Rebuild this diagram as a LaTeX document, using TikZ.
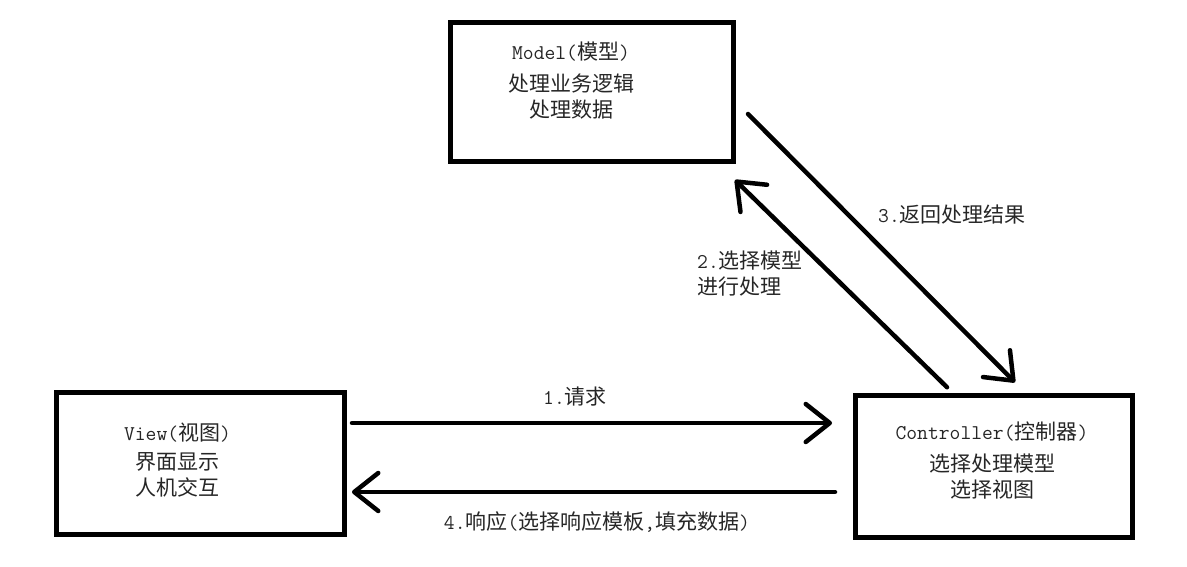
\documentclass[tikz,border=0pt]{standalone}
\usepackage{fontspec}
\setmainfont{Noto Sans CJK SC}
\setmonofont{Latin Modern Mono}
\usepackage{tikz}
\usetikzlibrary{arrows.meta, calc}
\tikzset{
	module/.style={rectangle, draw=black, line width=5pt, outer sep=0pt, minimum height=142pt},
	desc/.style  ={align=center, text=black!85, font=\fontsize{21}{26}\selectfont, inner sep=0pt},
	tag/.style   ={text=black!85, font=\fontsize{21}{26}\selectfont, inner sep=0pt},
	link/.style  ={line width=4.5pt, line cap=round, -{Straight Barb[length=24pt, width=38pt, round]}},
}
\newcommand{\lat}[1]{\texttt{#1}}

\begin{document}
\begin{tikzpicture}[x=1pt, y=-1pt]
	\useasboundingbox (0,0) rectangle (1187,567);
	% the three parts
	\node[module, minimum width=283.5pt, minimum height=139pt] (model) at (591.75,92) {};
	\node[module, minimum width=288pt] (view) at (200.5,463.25) {};
	\node[module, minimum width=276.5pt] (ctrl) at (993.75,466.75) {};

	\node[desc] (modeltxt) at (571,81) {\lat{Model(}模型\lat{)}\\[6pt]处理业务逻辑\\处理数据};
	\node[desc] (viewtxt) at (177.5,460) {\lat{View(}视图\lat{)}\\[3pt]界面显示\\人机交互};
	\node[desc] (ctrltxt) at (992,461) {\lat{Controller(}控制器\lat{)}\\[6pt]选择处理模型\\选择视图};

	% requests and responses
	\draw[link] ([xshift=7.5pt, yshift=40.25pt]view.east) -- ([xshift=-23.5pt, yshift=43.75pt]ctrl.west);
	\draw[link] ([xshift=91.5pt, yshift=8.5pt]ctrl.north west) -- ([xshift=1.5pt, yshift=-18.5pt]model.south east);
	\draw[link] ([xshift=14.5pt, yshift=-22pt]model.east) -- ([xshift=159.5pt, yshift=13.5pt]ctrl.north west);
	\draw[link] ([xshift=-20.5pt, yshift=-25.25pt]ctrl.west) -- ([xshift=7.5pt, yshift=-28.75pt]view.east);

	\node[tag] (req) at (575,397) {\lat{1.}请求};
	\node[tag, anchor=west, align=left] (pick) at (697,274) {\lat{2.}选择模型\\进行处理};
	\node[tag] (back) at (952,215) {\lat{3.}返回处理结果};
	\node[tag] (resp) at (597,522) {\lat{4.}响应\lat{(}选择响应模板\lat{,}填充数据\lat{)}};
\end{tikzpicture}
\end{document}
